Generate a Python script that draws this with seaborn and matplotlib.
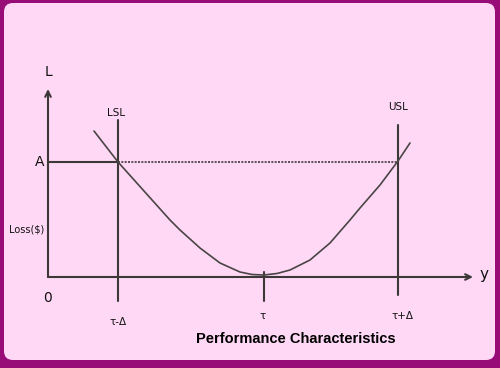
import matplotlib
matplotlib.use("Agg")
import matplotlib.pyplot as plt
from matplotlib.patches import FancyBboxPatch
import seaborn as sns
import pandas as pd

# Loss curve samples (diagram units: x from the L-axis, height above the y-axis)
curve_x = [46, 70, 96, 122, 132, 152, 172, 192, 204, 216, 229, 242, 262, 282, 302, 312, 332, 350, 362]
curve_y = [146, 115, 86, 57, 47, 29, 14, 5, 2.5, 2, 3.5, 7, 17, 34, 57, 69, 92, 116, 134]

# Key positions on the performance axis
spec_names = ["LSL", "USL"]
spec_x = [70, 350]
tau_x = 216
loss_A = 115
tick_labels = ["τ-Δ", "τ", "τ+Δ"]

sns.set_style("white")
fig = plt.figure(figsize=(5.0, 3.68), dpi=100)
fig.patch.set_facecolor("#980c78")
ax = fig.add_axes([0, 0, 1, 1])
ax.set_xlim(-48, 452)
ax.set_ylim(-91, 277)
ax.axis("off")

# pink rounded panel
panel = FancyBboxPatch((-44 + 4, -83 + 4), 491 - 8, 357 - 8,
                       boxstyle="round,pad=4,rounding_size=9",
                       facecolor="#ffd8f5", edgecolor="none", zorder=0)
ax.add_patch(panel)

lc = "#3c3838"
lw = 1.5

# axes arrows
ax.annotate("", xy=(0, 188), xytext=(0, 0),
            arrowprops=dict(arrowstyle="->", color=lc, lw=lw, mutation_scale=10, shrinkA=0, shrinkB=0))
ax.annotate("", xy=(425, 0), xytext=(0, 0),
            arrowprops=dict(arrowstyle="->", color=lc, lw=lw, mutation_scale=10, shrinkA=0, shrinkB=0))

# spec limit lines
ax.plot([spec_x[0], spec_x[0]], [157, -24], color=lc, lw=lw)
ax.plot([spec_x[1], spec_x[1]], [152, -18], color=lc, lw=lw)
ax.plot([tau_x, tau_x], [5, -24], color=lc, lw=lw)

# loss level A
ax.plot([0, spec_x[0]], [loss_A, loss_A], color=lc, lw=lw)
ax.plot([spec_x[0], spec_x[1]], [loss_A, loss_A], color=lc, lw=1.2, ls=(0, (1.2, 0.8)))

# loss curve
df = pd.DataFrame({"y": curve_x, "L": curve_y})
sns.lineplot(data=df, x="y", y="L", ax=ax, color="#4a4545", lw=1.2, sort=False)
ax.set_xlim(-48, 452)
ax.set_ylim(-91, 277)
ax.axis("off")

tc = "#111111"
ax.text(0, 205, "L", ha="center", va="center", fontsize=10, color=tc)
ax.text(436, 2, "y", ha="center", va="center", fontsize=11, color=tc)
ax.text(-8, 115, "A", ha="center", va="center", fontsize=10, color=tc)
ax.text(-21, 47, "Loss($)", ha="center", va="center", fontsize=7, color=tc)
ax.text(0, -21, "0", ha="center", va="center", fontsize=10, color=tc)
ax.text(68, 164, spec_names[0], ha="center", va="center", fontsize=7.5, color=tc)
ax.text(350, 170, spec_names[1], ha="center", va="center", fontsize=7.5, color=tc)
ax.text(spec_x[0], -45, tick_labels[0], ha="center", va="center", fontsize=7.5, color=tc)
ax.text(tau_x - 1, -39, tick_labels[1], ha="center", va="center", fontsize=7.5, color=tc)
ax.text(spec_x[1] + 5, -39, tick_labels[2], ha="center", va="center", fontsize=7.5, color=tc)
ax.text(248, -62, "Performance Characteristics", ha="center", va="center",
        fontsize=10.5, fontweight="bold", family="Liberation Sans", color="#000000")

fig.savefig("out.png", dpi=100, facecolor=fig.get_facecolor())
